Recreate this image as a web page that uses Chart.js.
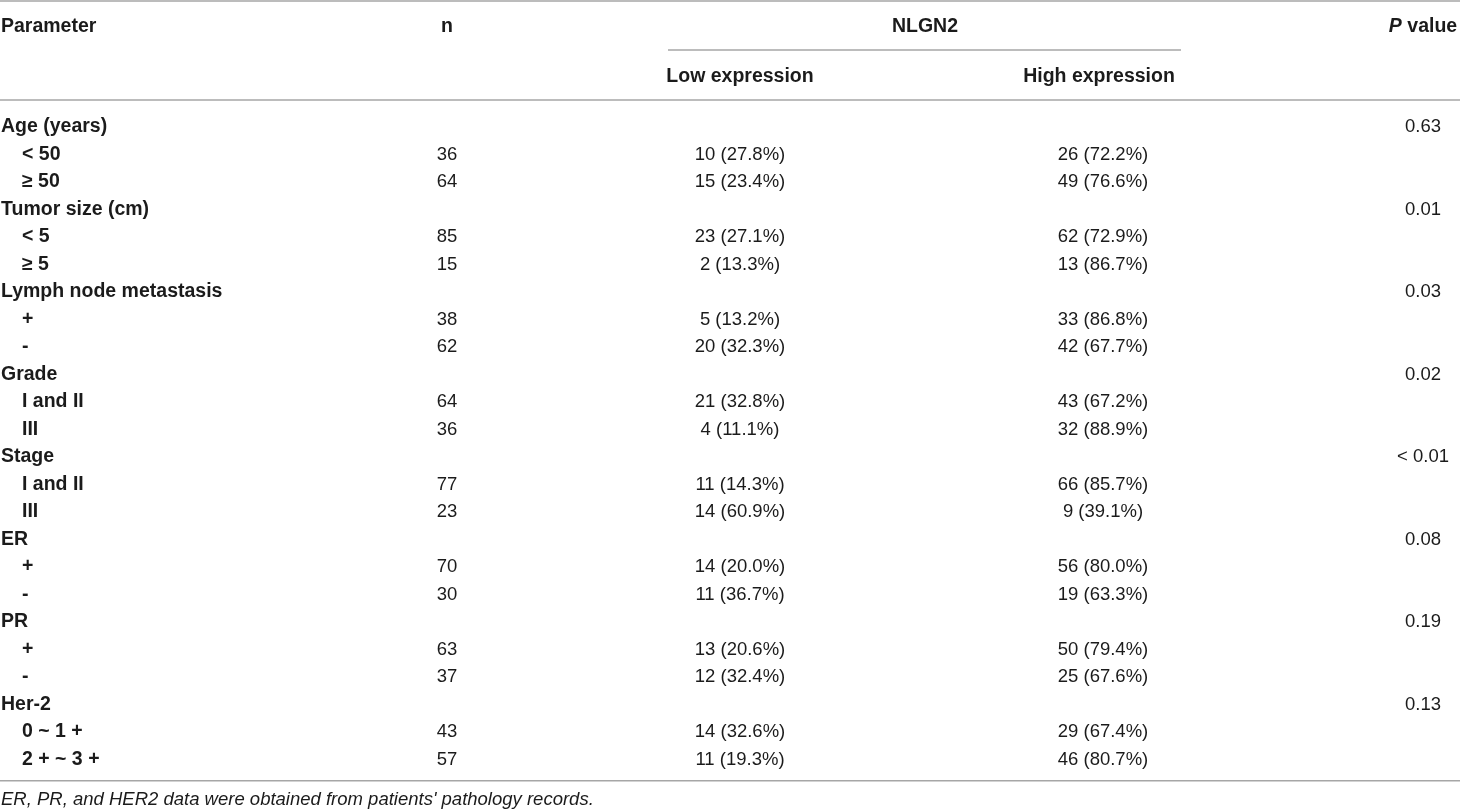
<!DOCTYPE html>
<html>
<head>
<meta charset="utf-8">
<script src="https://cdn.jsdelivr.net/npm/chart.js@4.4.1/dist/chart.umd.min.js"></script>
<style>
  html, body { margin: 0; padding: 0; background: #fff; }
  #wrap { width: 1460px; height: 812px; }
</style>
</head>
<body>
<div id="wrap"><canvas id="nlgn2Table"></canvas></div>
<script>
// table data
const groups = ['Age (years)', 'Tumor size (cm)', 'Lymph node metastasis', 'Grade', 'Stage', 'ER', 'PR', 'Her-2']
const subgroups = [
  ['< 50', '≥ 50'],
  ['< 5', '≥ 5'],
  ['+', '-'],
  ['I and II', 'III'],
  ['I and II', 'III'],
  ['+', '-'],
  ['+', '-'],
  ['0 ~ 1 +', '2 + ~ 3 +'],
]
const nValues = [[36, 64], [85, 15], [38, 62], [64, 36], [77, 23], [70, 30], [63, 37], [43, 57]]
const lowCounts = [[10, 15], [23, 2], [5, 20], [21, 4], [11, 14], [14, 11], [13, 12], [14, 11]]
const lowPct = [[27.8, 23.4], [27.1, 13.3], [13.2, 32.3], [32.8, 11.1], [14.3, 60.9], [20.0, 36.7], [20.6, 32.4], [32.6, 19.3]]
const highCounts = [[26, 49], [62, 13], [33, 42], [43, 32], [66, 9], [56, 19], [50, 25], [29, 46]]
const highPct = [[72.2, 76.6], [72.9, 86.7], [86.8, 67.7], [67.2, 88.9], [85.7, 39.1], [80.0, 63.3], [79.4, 67.6], [67.4, 80.7]]
const pValues = ['0.63', '0.01', '0.03', '0.02', '< 0.01', '0.08', '0.19', '0.13']
const footnote = "ER, PR, and HER2 data were obtained from patients' pathology records."

// layout (x positions on a 0..1460 linear scale)
const COL = { group: 1, sub: 22, n: 447, low: 740, high: 1103, p: 1423 }
const ROW_H = 27.5
const BOLD = 'bold 19.5px "Liberation Sans", Arial, sans-serif'
const PLAIN = '18.5px "Liberation Sans", Arial, sans-serif'
const TEXT = '#1b1b1b'
const RULE = '#a6a6a6'

// flatten groups into rows
const rows = []
groups.forEach((g, gi) => {
  rows.push({ label: g, sub: false, p: pValues[gi] })
  subgroups[gi].forEach((s, si) => {
    rows.push({
      label: s,
      sub: true,
      n: String(nValues[gi][si]),
      low: `${lowCounts[gi][si]} (${lowPct[gi][si].toFixed(1)}%)`,
      high: `${highCounts[gi][si]} (${highPct[gi][si].toFixed(1)}%)`,
    })
  })
})

function column(key, align, font, pick) {
  const data = []
  rows.forEach((r, i) => {
    const text = pick(r)
    if (text !== undefined) data.push({ x: typeof key === 'function' ? key(r) : COL[key], y: i, text })
  })
  return { data, align, font, pointRadius: 0, pointHoverRadius: 0, clip: false }
}

const datasets = [
  column((r) => (r.sub ? COL.sub : COL.group), 'left', BOLD, (r) => r.label),
  column('n', 'center', PLAIN, (r) => r.n),
  column('low', 'center', PLAIN, (r) => r.low),
  column('high', 'center', PLAIN, (r) => r.high),
  column('p', 'center', PLAIN, (r) => r.p),
]

const tableText = {
  id: 'tableText',
  afterDatasetsDraw(chart) {
    const ctx = chart.ctx
    const area = chart.chartArea
    const x = chart.scales.x
    ctx.save()
    ctx.fillStyle = TEXT
    ctx.textBaseline = 'middle'

    // cells, at the points the scales placed
    chart.data.datasets.forEach((ds, di) => {
      const meta = chart.getDatasetMeta(di)
      ctx.font = ds.font
      ctx.textAlign = ds.align
      meta.data.forEach((pt, j) => {
        ctx.fillText(ds.data[j].text, pt.x, pt.y)
      })
    })

    // header
    ctx.font = BOLD
    ctx.textAlign = 'left'
    ctx.fillText('Parameter', x.getPixelForValue(COL.group), 27)
    ctx.textAlign = 'center'
    ctx.fillText('n', x.getPixelForValue(COL.n), 27)
    ctx.fillText('NLGN2', x.getPixelForValue(925), 27)
    ctx.fillText('Low expression', x.getPixelForValue(COL.low), 77)
    ctx.fillText('High expression', x.getPixelForValue(1099), 77)

    // "P value" with italic P
    const italicBold = 'italic ' + BOLD
    ctx.font = italicBold
    const wP = ctx.measureText('P').width
    ctx.font = BOLD
    const wV = ctx.measureText(' value').width
    const px = x.getPixelForValue(COL.p) - (wP + wV) / 2
    ctx.textAlign = 'left'
    ctx.font = italicBold
    ctx.fillText('P', px, 27)
    ctx.font = BOLD
    ctx.fillText(' value', px + wP, 27)

    // rules
    ctx.strokeStyle = RULE
    ctx.lineWidth = 1.5
    const hline = (y, x0, x1) => {
      ctx.beginPath()
      ctx.moveTo(x0, y)
      ctx.lineTo(x1, y)
      ctx.stroke()
    }
    hline(1, area.left, area.right)
    hline(50, x.getPixelForValue(668), x.getPixelForValue(1181))
    hline(100, area.left, area.right)
    hline(area.bottom + 7.5, area.left, area.right)

    // footnote
    ctx.fillStyle = TEXT
    ctx.font = 'italic 18.5px "Liberation Sans", Arial, sans-serif'
    ctx.textAlign = 'left'
    ctx.fillText(footnote, x.getPixelForValue(COL.group), 800)
    ctx.restore()
  },
}

const padTop = 127 - ROW_H / 2
const padBottom = 812 - (padTop + rows.length * ROW_H)

new Chart(document.getElementById('nlgn2Table'), {
  type: 'scatter',
  data: { datasets },
  options: {
    responsive: true,
    maintainAspectRatio: false,
    animation: false,
    layout: { padding: { top: padTop, bottom: padBottom, left: 0, right: 0 } },
    plugins: { legend: { display: false }, tooltip: { enabled: false } },
    scales: {
      x: { type: 'linear', min: 0, max: 1460, display: false },
      y: { type: 'linear', min: -0.5, max: rows.length - 0.5, reverse: true, display: false },
    },
  },
  plugins: [tableText],
})
</script>
</body>
</html>
